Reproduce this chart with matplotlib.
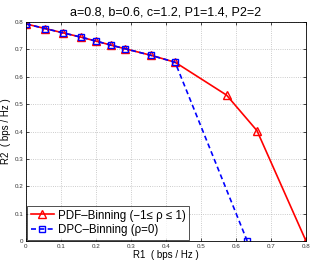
import matplotlib
matplotlib.use("Agg")
import matplotlib.pyplot as plt

common_r1 = [0.0, 0.055, 0.107, 0.156, 0.201, 0.244, 0.284, 0.358, 0.426]
common_r2 = [0.793, 0.776, 0.760, 0.745, 0.730, 0.715, 0.702, 0.678, 0.653]
pdf_r1 = common_r1 + [0.573, 0.660, 0.800]
pdf_r2 = common_r2 + [0.533, 0.403, 0.0]
dpc_r1 = common_r1 + [0.632]
dpc_r2 = common_r2 + [0.0]
xticks = [0, 0.1, 0.2, 0.3, 0.4, 0.5, 0.6, 0.7, 0.8]
yticks = [0, 0.1, 0.2, 0.3, 0.4, 0.5, 0.6, 0.7, 0.8]

plt.rcParams['font.family'] = ['Liberation Sans', 'DejaVu Sans']
fig = plt.figure(figsize=(3.13, 2.63), dpi=100)
ax = fig.add_axes([26/313, 1-241/263, 280/313, 219/263])

ax.plot(pdf_r1, pdf_r2, color='red', lw=1.2, marker='^', ms=5.5, mfc='none',
        mec='red', mew=1.0, label='PDF\u2013Binning (\u22121\u2264 \u03c1 \u2264 1)')
ax.plot(dpc_r1, dpc_r2, color='blue', lw=1.2, ls='--', dashes=(3, 2), marker='s', ms=4.5,
        mfc='none', mec='blue', mew=1.0, label='DPC\u2013Binning (\u03c1=0)')

ax.set_xlim(0, 0.8)
ax.set_ylim(0, 0.8)
ax.set_xticks(xticks)
ax.set_yticks(yticks)
ax.set_xticklabels(['0'] + [f'{v:g}' for v in xticks[1:]])
ax.set_yticklabels(['0'] + [f'{v:g}' for v in yticks[1:]])
ax.tick_params(direction='in', labelsize=4.5, length=2, width=0.5, top=True, right=True, pad=2,
               labelcolor='#333333')
ax.grid(True, ls=':', color='#bbbbbb', lw=0.6)
for s in ax.spines.values():
    s.set_linewidth(0.6)

ax.set_title('a=0.8, b=0.6, c=1.2, P1=1.4, P2=2', fontsize=9, pad=5)
ax.set_xlabel('R1  ( bps / Hz )', fontsize=7, labelpad=1)
ax.set_ylabel('R2  ( bps / Hz )', fontsize=7, labelpad=0)
ax.yaxis.set_label_coords(-0.052, 0.5)

leg = ax.legend(loc='lower left', fontsize=8.3, frameon=True, fancybox=False,
                edgecolor='black', borderpad=0.3, handlelength=2.0, labelspacing=0.25,
                borderaxespad=0.1, handletextpad=0.4)
leg.get_frame().set_linewidth(0.6)

fig.savefig('out.png', dpi=100)
